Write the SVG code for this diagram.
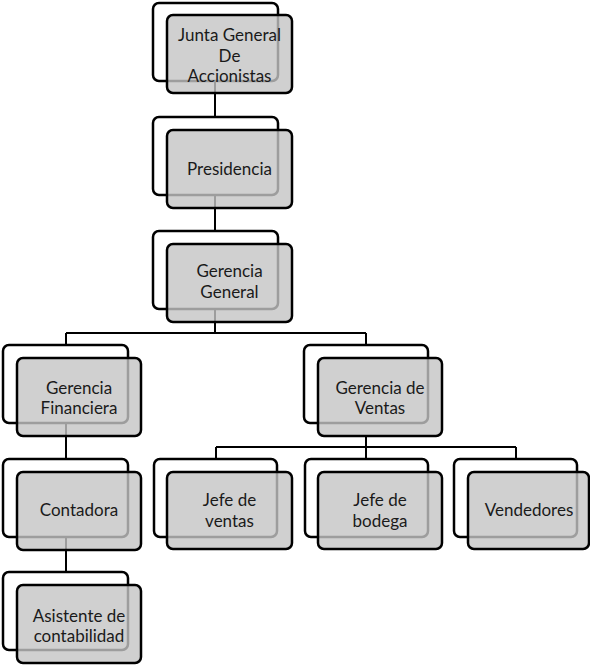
<svg xmlns="http://www.w3.org/2000/svg" width="590" height="665" viewBox="0 0 590 665">
<style>
.bk{fill:#fff;stroke:#000;stroke-width:2.5}
.fr{fill:#c4c4c4;fill-opacity:0.8;stroke:#000;stroke-width:2.5}
.ln{fill:none;stroke:#000;stroke-width:2}
text{font-family:Lato,"Open Sans","Liberation Sans",sans-serif;font-size:17px;fill:#1a1a1a;text-anchor:middle}
</style>
<rect width="590" height="665" fill="#fff"/>
<g id="connectors">
<path class="ln" d="M215,81V117M215,195V231M215,310V333M66,333H366M66,333V345M366,333V345M66,423V459M66,537V572M366,436V447M216,447H516M216,447V459M366,447V459M516,447V459"/>
</g>
<g id="junta">
<rect class="bk" x="153" y="3" width="125" height="78" rx="6"/>
<rect class="fr" x="167" y="15" width="125" height="78" rx="6"/>
<text x="229.5" y="41">Junta General</text>
<text x="229.5" y="62">De</text>
<text x="229.5" y="82">Accionistas</text>
</g>
<g id="presidencia">
<rect class="bk" x="153" y="117" width="125" height="78" rx="6"/>
<rect class="fr" x="167" y="130" width="125" height="78" rx="6"/>
<text x="229.5" y="175">Presidencia</text>
</g>
<g id="gerencia-general">
<rect class="bk" x="153" y="231" width="125" height="78" rx="6"/>
<rect class="fr" x="167" y="244" width="125" height="78" rx="6"/>
<text x="229.5" y="277">Gerencia</text>
<text x="229.5" y="298">General</text>
</g>
<g id="gerencia-financiera">
<rect class="bk" x="3" y="345" width="125" height="78" rx="6"/>
<rect class="fr" x="17" y="358" width="124" height="78" rx="6"/>
<text x="79" y="394">Gerencia</text>
<text x="79" y="414">Financiera</text>
</g>
<g id="gerencia-ventas">
<rect class="bk" x="304" y="345" width="124" height="78" rx="6"/>
<rect class="fr" x="318" y="358" width="124" height="78" rx="6"/>
<text x="380" y="394">Gerencia de</text>
<text x="380" y="414">Ventas</text>
</g>
<g id="contadora">
<rect class="bk" x="3" y="459" width="125" height="78" rx="6"/>
<rect class="fr" x="17" y="472" width="124" height="78" rx="6"/>
<text x="79" y="516">Contadora</text>
</g>
<g id="asistente">
<rect class="bk" x="3" y="572" width="125" height="78" rx="6"/>
<rect class="fr" x="17" y="585" width="124" height="78" rx="6"/>
<text x="79" y="622">Asistente de</text>
<text x="79" y="642">contabilidad</text>
</g>
<g id="jefe-ventas">
<rect class="bk" x="154" y="459" width="123" height="78" rx="6"/>
<rect class="fr" x="167" y="472" width="125" height="77" rx="6"/>
<text x="229.5" y="506">Jefe de</text>
<text x="229.5" y="527">ventas</text>
</g>
<g id="jefe-bodega">
<rect class="bk" x="305" y="459" width="123" height="78" rx="6"/>
<rect class="fr" x="318" y="472" width="124" height="77" rx="6"/>
<text x="380" y="506">Jefe de</text>
<text x="380" y="527">bodega</text>
</g>
<g id="vendedores">
<rect class="bk" x="454" y="459" width="123" height="78" rx="6"/>
<rect class="fr" x="468" y="472" width="121" height="77" rx="6"/>
<text x="529" y="516">Vendedores</text>
</g>
</svg>
